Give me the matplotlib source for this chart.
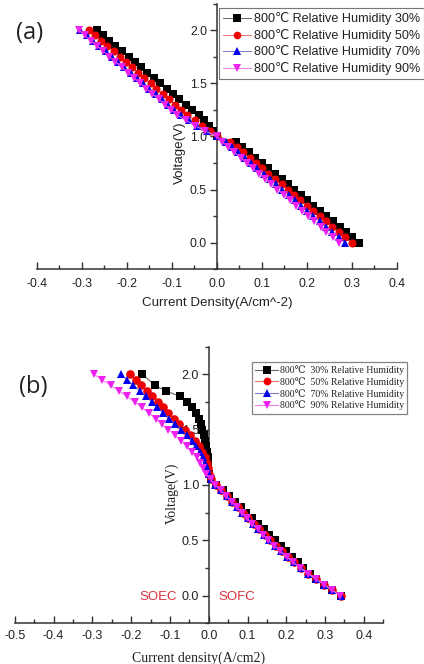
import matplotlib
matplotlib.use("Agg")
import matplotlib.pyplot as plt
from matplotlib.ticker import MultipleLocator

# ---------------- data: panel (a) ----------------
v_a = [2.0, 1.95, 1.9, 1.85, 1.8, 1.75, 1.7, 1.65, 1.6, 1.55, 1.5, 1.45, 1.4, 1.35, 1.3, 1.25,
       1.2, 1.15, 1.1, 1.05, 1.0, 0.95, 0.9, 0.85, 0.8, 0.75, 0.7, 0.65, 0.6, 0.55, 0.5, 0.45,
       0.4, 0.35, 0.3, 0.25, 0.2, 0.15, 0.1, 0.05, 0.0]
i_a_30 = [-0.267, -0.253, -0.239, -0.225, -0.211, -0.196, -0.182, -0.168, -0.154, -0.140, -0.126,
          -0.111, -0.097, -0.083, -0.069, -0.054, -0.040, -0.028, -0.018, -0.008, 0.000, 0.043,
          0.057, 0.072, 0.086, 0.100, 0.115, 0.129, 0.144, 0.158, 0.172, 0.187, 0.201, 0.215,
          0.230, 0.244, 0.258, 0.273, 0.287, 0.301, 0.316]
i_a_50 = [-0.284, -0.270, -0.257, -0.243, -0.229, -0.216, -0.202, -0.188, -0.175, -0.161, -0.147,
          -0.134, -0.120, -0.106, -0.093, -0.079, -0.065, -0.048, -0.033, -0.016, 0.000, 0.030,
          0.044, 0.058, 0.073, 0.087, 0.101, 0.115, 0.129, 0.144, 0.158, 0.172, 0.186, 0.200,
          0.215, 0.229, 0.243, 0.257, 0.271, 0.286, 0.300]
i_a_70 = [-0.303, -0.289, -0.275, -0.261, -0.247, -0.233, -0.219, -0.205, -0.191, -0.178, -0.164,
          -0.150, -0.136, -0.122, -0.108, -0.094, -0.080, -0.062, -0.043, -0.022, 0.000, 0.020,
          0.034, 0.048, 0.062, 0.076, 0.090, 0.104, 0.118, 0.132, 0.146, 0.160, 0.173, 0.187,
          0.201, 0.215, 0.229, 0.243, 0.257, 0.271, 0.285]
i_a_90 = [-0.307, -0.293, -0.280, -0.266, -0.252, -0.239, -0.225, -0.211, -0.198, -0.184, -0.170,
          -0.157, -0.143, -0.129, -0.116, -0.102, -0.088, -0.068, -0.048, -0.025, 0.000, 0.012,
          0.026, 0.039, 0.053, 0.067, 0.080, 0.094, 0.108, 0.121, 0.135, 0.149, 0.162, 0.176,
          0.190, 0.203, 0.217, 0.231, 0.244, 0.258, 0.272]

# ---------------- data: panel (b) ----------------
v_b = [2.0, 1.95, 1.9, 1.85, 1.8, 1.75, 1.7, 1.65, 1.6, 1.55, 1.5, 1.45, 1.4, 1.35, 1.3, 1.25,
       1.2, 1.15, 1.1, 1.05, 1.0, 0.95, 0.9, 0.85, 0.8, 0.75, 0.7, 0.65, 0.6, 0.55, 0.5, 0.45,
       0.4, 0.35, 0.3, 0.25, 0.2, 0.15, 0.1, 0.05, 0.0]
v_b_30 = [2.0, 1.9, 1.85, 1.8, 1.75, 1.7, 1.65, 1.6, 1.55, 1.5, 1.45, 1.4, 1.35, 1.3, 1.25,
          1.2, 1.15, 1.1, 1.05, 1.0, 0.95, 0.9, 0.85, 0.8, 0.75, 0.7, 0.65, 0.6, 0.55, 0.5, 0.45,
          0.4, 0.35, 0.3, 0.25, 0.2, 0.15, 0.1, 0.05, 0.0]
i_b_30 = [-0.171, -0.139, -0.111, -0.074, -0.055, -0.042, -0.033, -0.026, -0.020, -0.016, -0.012,
          -0.009, -0.006, -0.004, -0.003, -0.002, -0.001, 0.000, 0.006, 0.020, 0.036, 0.052,
          0.068, 0.083, 0.097, 0.112, 0.127, 0.142, 0.156, 0.171, 0.186, 0.200, 0.215, 0.229,
          0.244, 0.260, 0.277, 0.297, 0.318, 0.342]
i_b_50 = [-0.202, -0.188, -0.174, -0.159, -0.145, -0.131, -0.118, -0.104, -0.090, -0.076, -0.062,
          -0.049, -0.036, -0.025, -0.016, -0.009, -0.004, -0.001, 0.001, 0.005, 0.018, 0.032,
          0.047, 0.061, 0.075, 0.088, 0.102, 0.116, 0.130, 0.144, 0.158, 0.173, 0.189, 0.205,
          0.221, 0.239, 0.257, 0.277, 0.297, 0.318, 0.340]
i_b_70 = [-0.227, -0.210, -0.194, -0.178, -0.162, -0.147, -0.132, -0.117, -0.102, -0.086, -0.071,
          -0.057, -0.044, -0.033, -0.023, -0.015, -0.009, -0.004, 0.000, 0.005, 0.017, 0.031,
          0.046, 0.060, 0.073, 0.087, 0.100, 0.114, 0.128, 0.142, 0.156, 0.171, 0.187, 0.203,
          0.220, 0.238, 0.256, 0.276, 0.297, 0.318, 0.340]
i_b_90 = [-0.296, -0.275, -0.253, -0.232, -0.211, -0.191, -0.172, -0.154, -0.137, -0.121, -0.104,
          -0.087, -0.071, -0.056, -0.043, -0.031, -0.022, -0.015, -0.008, 0.005, 0.017, 0.031,
          0.045, 0.059, 0.072, 0.085, 0.098, 0.112, 0.126, 0.140, 0.154, 0.169, 0.185, 0.201,
          0.218, 0.236, 0.256, 0.276, 0.297, 0.318, 0.339]

labels_a = ["800\u2103 Relative Humidity 30%", "800\u2103 Relative Humidity 50%",
            "800\u2103 Relative Humidity 70%", "800\u2103 Relative Humidity 90%"]
labels_b = ["800\u2103  30% Relative Humidity", "800\u2103  50% Relative Humidity",
            "800\u2103  70% Relative Humidity", "800\u2103  90% Relative Humidity"]

markers = ["s", "o", "^", "v"]
mcolors = ["#000000", "#ee0000", "#0000ee", "#ee22ee"]
lcolors = ["#666666", "#f07070", "#7777cc", "#f080f0"]

SANS = ["Liberation Sans", "DejaVu Sans"]
SERIF = ["Liberation Serif", "DejaVu Serif"]

fig = plt.figure(figsize=(4.24, 6.64), dpi=100)


def style_axes(ax, xlim, xmaj, family_ticks, tick_fs, xpad):
    ax.set_xlim(*xlim)
    ax.set_ylim(-0.25, 2.25)
    ax.spines["top"].set_visible(False)
    ax.spines["right"].set_visible(False)
    ax.spines["left"].set_position(("data", 0))
    for s in ("left", "bottom"):
        ax.spines[s].set_linewidth(1.1)
        ax.spines[s].set_color("#333333")
    ax.xaxis.set_minor_locator(MultipleLocator(0.05))
    ax.set_xticks(xmaj)
    ax.set_xticklabels(["%.1f" % t for t in xmaj])
    ax.set_yticks([0.0, 0.5, 1.0, 1.5, 2.0])
    ax.set_yticklabels(["0.0", "0.5", "1.0", "1.5", "2.0"])
    ax.yaxis.set_minor_locator(MultipleLocator(0.25))
    ax.tick_params(axis="x", which="major", direction="in", length=5, width=1.0,
                   color="#333333", pad=xpad, labelsize=tick_fs)
    ax.tick_params(axis="x", which="minor", direction="in", length=3, width=1.0,
                   color="#333333")
    ax.tick_params(axis="y", which="major", direction="out", length=5, width=1.0,
                   color="#333333", pad=2, labelsize=tick_fs)
    ax.tick_params(axis="y", which="minor", direction="out", length=3, width=1.0,
                   color="#333333")
    for lab in ax.get_xticklabels() + ax.get_yticklabels():
        lab.set_family(family_ticks)
        lab.set_color("#222222")
    ax.patch.set_visible(False)


# ---------------- panel (a) ----------------
ax1 = fig.add_axes([0.0866, 0.5944, 0.849, 0.4003])
series_a = [i_a_30, i_a_50, i_a_70, i_a_90]
for k in range(4):
    ax1.plot(series_a[k], v_a, color=lcolors[k], lw=0.7, marker=markers[k], ms=5.8,
             mfc=mcolors[k], mec=mcolors[k], mew=0, label=labels_a[k], zorder=3 + k,
             clip_on=False)
style_axes(ax1, (-0.4, 0.4), [-0.4, -0.3, -0.2, -0.1, 0.0, 0.1, 0.2, 0.3, 0.4], SANS, 8.8, 6.5)
ax1.set_xlabel("Current Density(A/cm^-2)", family=SANS, fontsize=9.6, color="#222222")
ax1.xaxis.set_label_coords(0.5008, -0.127)
ax1.xaxis.label.set_va("center")
ax1.set_ylabel("Voltage(V)", family=SANS, fontsize=9.6, color="#222222")
ax1.yaxis.set_label_coords(0.398, 0.4375)
ax1.yaxis.label.set_va("center")
leg1 = ax1.legend(loc="upper left", bbox_to_anchor=(0.5165, 0.988),
                  bbox_transform=fig.transFigure, prop={"family": SANS, "size": 9.1},
                  frameon=True, fancybox=False, borderaxespad=0, borderpad=0.35,
                  handlelength=2.2, handletextpad=0.2, labelspacing=0.28, markerscale=0.95)
leg1.get_frame().set_edgecolor("#555555")
leg1.get_frame().set_linewidth(0.8)
leg1.set_zorder(10)
for t in leg1.get_texts():
    t.set_color("#222222")
fig.text(30 / 424, 1 - 33 / 664, "(a)", fontsize=17, family=["Open Sans", "DejaVu Sans"],
         ha="center", va="center", color="#222222")

# ---------------- panel (b) ----------------
ax2 = fig.add_axes([0.0347, 0.0612, 0.8693, 0.4169])
series_b = [(i_b_30, v_b_30), (i_b_50, v_b), (i_b_70, v_b), (i_b_90, v_b)]
for k in range(4):
    xs, ys = series_b[k]
    ax2.plot(xs, ys, color=lcolors[k], lw=0.8, marker=markers[k], ms=6.2,
             mfc=mcolors[k], mec=mcolors[k], mew=0, label=labels_b[k], zorder=3 + k,
             clip_on=False)
style_axes(ax2, (-0.5, 0.45), [-0.5, -0.4, -0.3, -0.2, -0.1, 0.0, 0.1, 0.2, 0.3, 0.4], SANS, 9, 5)
ax2.set_xlabel("Current density(A/cm2)", family=SERIF, fontsize=10, color="#222222")
ax2.xaxis.set_label_coords(0.5, -0.125)
ax2.xaxis.label.set_va("center")
ax2.set_ylabel("Voltage(V)", family=SERIF, fontsize=10, color="#222222")
ax2.yaxis.set_label_coords(0.4268, 0.471)
ax2.yaxis.label.set_va("center")
leg2 = ax2.legend(loc="upper left", bbox_to_anchor=(252 / 424, 1 - 362 / 664),
                  bbox_transform=fig.transFigure, prop={"family": SERIF, "size": 7},
                  frameon=True, fancybox=False, borderaxespad=0, borderpad=0.35,
                  handlelength=2.3, handletextpad=0.2, labelspacing=0.2, markerscale=0.9)
leg2.get_frame().set_edgecolor("#666666")
leg2.get_frame().set_linewidth(0.9)
leg2.set_zorder(10)
for t in leg2.get_texts():
    t.set_color("#222222")
ax2.text(158 / 424, 1 - 597 / 664, "SOEC", transform=fig.transFigure, fontsize=9.5,
         family=SANS, color="#d8303c", ha="center", va="center")
ax2.text(237 / 424, 1 - 597 / 664, "SOFC", transform=fig.transFigure, fontsize=9.5,
         family=SANS, color="#d8303c", ha="center", va="center")
fig.text(33 / 424, 1 - 387 / 664, "(b)", fontsize=17, family=["Open Sans", "DejaVu Sans"],
         ha="center", va="center", color="#222222")

fig.savefig("out.png", dpi=100)
